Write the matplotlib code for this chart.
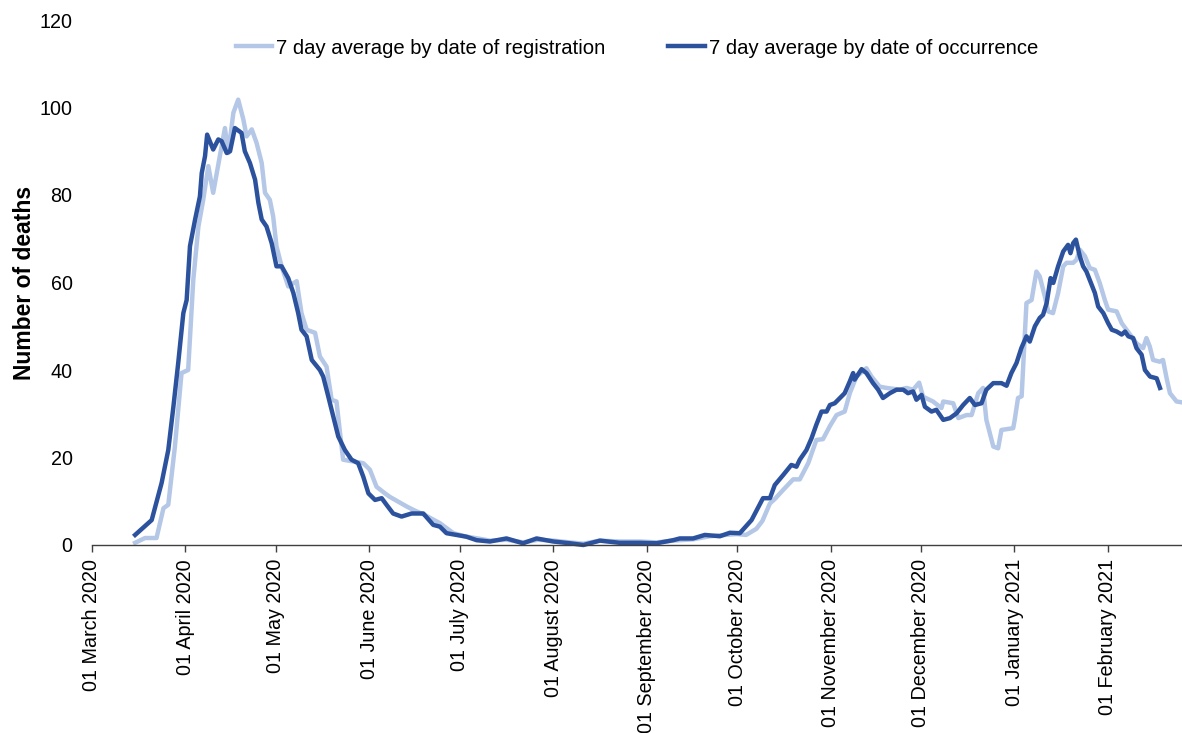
import pandas as pd
import matplotlib
matplotlib.use("Agg")
import matplotlib.pyplot as plt
import matplotlib.dates as mdates

# days since 01 March 2020 and 7 day averages
start = pd.Timestamp("2020-03-01")

occ_days = [14.3, 19.8, 23.1, 25.3, 27.0, 28.6, 30.3, 31.4, 32.5, 34.2, 35.8, 36.4, 37.5, 38.2,
            40.2, 41.9, 43.0, 44.7, 45.8, 47.4, 49.6, 50.7, 52.4, 54.1, 55.2, 56.3, 57.9, 59.6,
            61.2, 62.9, 65.1, 66.8, 68.4, 69.5, 71.2, 72.9, 75.6, 76.7, 78.4, 80.6, 81.7, 83.9,
            86.1, 88.3, 90.0, 91.7, 93.9, 96.1, 97.7, 99.9, 102.7, 106.0, 109.9, 113.2, 115.4,
            117.6, 120.9, 124.2, 127.6, 132.0, 137.5, 143.0, 147.5, 153.0, 158.5, 163.0, 168.5,
            175.0, 181.8, 187.3, 192.8, 195.0, 199.4, 203.3, 208.3, 211.6, 214.9, 218.8, 222.6,
            224.9, 226.5, 229.3, 232.0, 233.7, 234.8, 237.0, 238.7, 240.3, 242.0, 243.7, 244.8,
            246.4, 248.1, 249.7, 251.4, 252.5, 253.0, 255.3, 256.9, 259.1, 260.8, 262.4, 264.7,
            266.9, 269.1, 270.7, 272.4, 273.5, 275.2, 276.3, 278.5, 280.1, 282.4, 284.6, 286.8,
            289.0, 291.2, 292.9, 295.1, 296.7, 299.0, 301.7, 303.4, 305.0, 306.7, 308.3, 310.0,
            311.1, 312.8, 314.4, 315.5, 316.7, 318.0, 318.9, 320.5, 322.2, 323.8, 324.6, 325.5,
            326.4, 327.7, 328.8, 329.9, 331.6, 332.7, 333.8, 335.5, 337.1, 338.3, 339.9, 341.6,
            342.7, 343.8, 345.4, 346.5, 348.2, 349.3, 351.0, 353.2, 354.3]
occ_vals = [2.3, 5.7, 14.2, 21.7, 31.6, 41.6, 53.0, 56.0, 68.3, 74.4, 79.7, 85.0, 88.9, 93.8,
            90.4, 92.7, 92.3, 89.6, 90.0, 95.3, 94.2, 90.0, 87.3, 83.5, 78.2, 74.4, 72.8, 69.0,
            63.7, 63.7, 61.0, 57.6, 53.0, 49.2, 47.7, 42.3, 40.0, 38.5, 33.9, 27.8, 24.8, 21.7,
            19.5, 18.7, 15.6, 11.8, 10.3, 10.7, 9.2, 7.2, 6.5, 7.2, 7.2, 4.6, 4.2,
            2.7, 2.3, 1.9, 1.1, 0.8, 1.5, 0.4, 1.5, 0.8, 0.4, 0.0, 1.0,
            0.5, 0.5, 0.4, 1.1, 1.5, 1.5, 2.3, 2.0, 2.8, 2.7, 5.7, 10.7,
            10.7, 13.7, 16.0, 18.3, 17.9, 19.5, 21.7, 24.4, 27.5, 30.5, 30.5, 32.0,
            32.4, 33.6, 34.7, 37.4, 39.3, 37.8, 40.2, 39.3, 37.0, 35.5, 33.6, 34.7,
            35.5, 35.5, 34.7, 35.1, 33.2, 34.3, 31.6, 30.5, 30.9, 28.6, 29.0, 30.1,
            32.0, 33.6, 32.0, 32.4, 35.5, 37.0, 37.0, 36.4, 39.3, 41.6, 45.0, 47.7,
            46.5, 50.0, 51.9, 52.6, 55.3, 61.0, 59.9, 63.7, 67.1, 68.6, 66.7, 69.0,
            69.8, 66.0, 63.7, 62.5, 59.5, 57.6, 54.5, 53.0, 50.7, 49.2, 48.8, 48.1,
            48.8, 47.7, 47.3, 45.0, 43.5, 40.0, 38.5, 38.1, 35.9]

reg_days = [14.3, 17.6, 21.4, 23.7, 25.3, 27.5, 29.7, 31.9, 33.6, 35.3, 36.9, 38.6, 40.2, 42.4,
            44.1, 45.2, 46.9, 48.5, 50.2, 51.3, 53.0, 54.6, 56.3, 57.4, 59.0, 60.1, 61.2, 62.9,
            65.1, 67.9, 69.5, 71.2, 74.0, 75.6, 77.8, 79.5, 81.1, 83.3, 86.7, 90.0, 92.2, 94.4,
            97.2, 98.8, 101.6, 104.4, 107.0, 110.0, 115.4, 119.9, 124.2, 128.0, 132.0, 137.5,
            143.0, 148.0, 153.0, 158.5, 163.0, 168.5, 175.0, 181.8, 187.3, 192.8, 199.4, 205.0,
            210.0, 214.0, 217.0, 220.4, 222.4, 224.9, 226.5, 229.3, 232.6, 234.8, 237.6, 240.3,
            242.5, 244.8, 247.0, 249.7, 251.4, 253.6, 256.9, 258.6, 261.3, 263.6, 268.0, 270.2,
            272.4, 274.4, 275.7, 279.0, 281.8, 282.4, 285.7, 287.4, 290.1, 291.8, 294.0, 295.6,
            296.7, 299.0, 300.6, 301.7, 305.6, 306.1, 307.2, 308.4, 310.0, 311.7, 313.3, 314.4,
            316.1, 317.2, 318.8, 320.5, 322.2, 323.3, 325.5, 326.6, 327.7, 329.4, 331.0, 332.7,
            334.3, 336.0, 337.1, 339.9, 341.6, 343.2, 346.5, 348.7, 349.8, 350.9, 352.0, 354.2,
            355.3, 356.5, 357.6, 359.8, 361.6]
reg_vals = [0.5, 1.6, 1.6, 8.4, 9.2, 22.5, 39.3, 40.0, 60.6, 72.8, 78.9, 86.6, 80.5, 88.9,
            95.3, 89.6, 98.8, 101.8, 97.3, 93.4, 95.0, 91.9, 87.3, 80.5, 78.9, 75.1, 68.3, 63.7,
            59.1, 60.3, 53.0, 49.2, 48.5, 43.1, 40.8, 33.2, 32.8, 19.5, 19.1, 18.7, 17.2, 13.3,
            11.8, 11.0, 9.9, 8.8, 7.9, 7.0, 5.0, 2.7, 1.9, 1.5, 1.0, 1.2,
            0.6, 1.2, 1.0, 0.6, 0.3, 1.0, 0.8, 0.8, 0.6, 1.0, 1.3, 2.0,
            2.3, 2.5, 2.3, 3.7, 5.5, 9.5, 10.5, 12.6, 15.0, 15.0, 18.7, 24.0,
            24.2, 27.2, 29.7, 30.5, 34.7, 38.5, 40.4, 38.5, 36.2, 35.9, 35.5, 35.9,
            35.5, 37.1, 33.9, 32.8, 31.3, 32.8, 32.4, 29.0, 29.7, 29.7, 34.7, 35.9,
            28.6, 22.5, 22.1, 26.3, 26.7, 28.6, 33.6, 34.0, 55.3, 56.0, 62.5, 61.4,
            56.8, 53.4, 53.0, 57.6, 63.7, 64.5, 64.5, 65.2, 67.5, 66.0, 63.3, 62.9,
            59.9, 56.0, 53.8, 53.4, 50.7, 49.2, 46.1, 45.0, 47.3, 45.4, 42.3, 41.9,
            42.3, 38.1, 34.7, 32.8, 32.6]

series_labels = ["7 day average by date of registration", "7 day average by date of occurrence"]
y_ticks = [0, 20, 40, 60, 80, 100, 120]

plt.rcParams['font.family'] = ['Liberation Sans', 'DejaVu Sans']

reg_dates = start + pd.to_timedelta(reg_days, unit="D")
occ_dates = start + pd.to_timedelta(occ_days, unit="D")

fig = plt.figure(figsize=(11.82, 7.33), dpi=100)
ax = fig.add_axes([92 / 1182, 188 / 733, 1090 / 1182, 525 / 733])

ax.plot(reg_dates, reg_vals, color="#B4C7E7", lw=3.2, label=series_labels[0], clip_on=False,
        solid_joinstyle="round")
ax.plot(occ_dates, occ_vals, color="#2C529E", lw=3.2, label=series_labels[1], clip_on=False,
        solid_joinstyle="round")

ax.set_xlim(start, start + pd.Timedelta(days=361.6))
ax.set_ylim(0, 120)
ax.set_yticks(y_ticks)

ax.xaxis.set_major_locator(mdates.MonthLocator())
ax.xaxis.set_major_formatter(mdates.DateFormatter("%d %B %Y"))
plt.setp(ax.get_xticklabels(), rotation=90, fontsize=14.2, color="black")
ax.tick_params(axis="x", direction="out", length=5, width=1, color="#404040", pad=5)
ax.tick_params(axis="y", length=0, pad=14, labelsize=14.2, labelcolor="black")

for s in ["top", "right", "left"]:
    ax.spines[s].set_visible(False)
ax.spines["bottom"].set_color("#404040")
ax.spines["bottom"].set_linewidth(1)

ax.set_ylabel("Number of deaths", fontsize=16.5, fontweight="bold")
ax.yaxis.set_label_coords(-56 / 1090, 0.5)

ax.legend(loc="center", bbox_to_anchor=(0.5, 1 - 28 / 525), ncol=2, frameon=False,
          fontsize=14.6, handlelength=1.8, handletextpad=0.2, columnspacing=3.1)

fig.savefig("out.png", dpi=100)
